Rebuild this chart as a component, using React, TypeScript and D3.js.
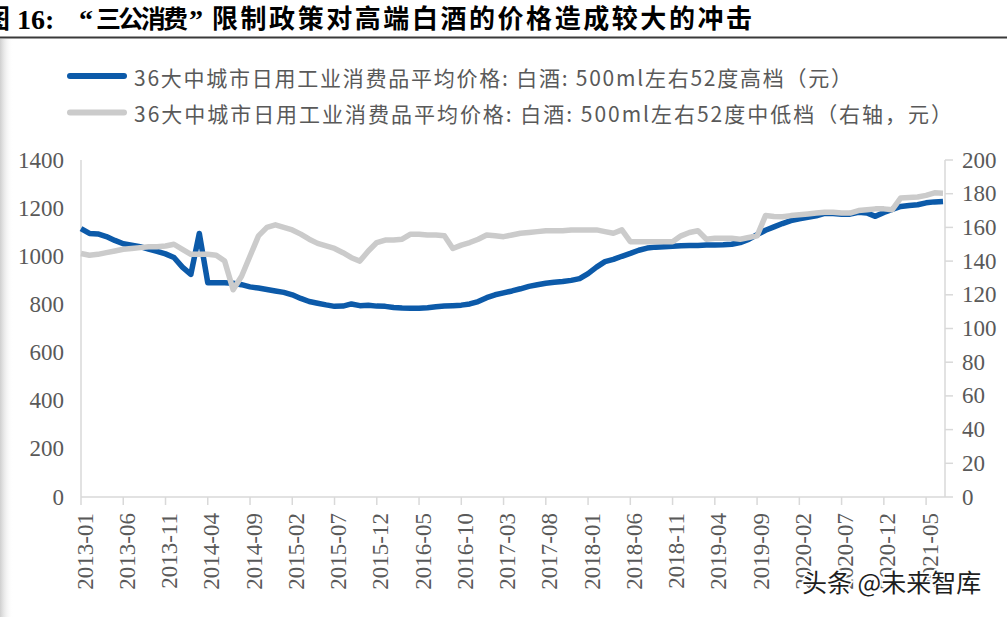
import React from "react";
import * as d3 from "d3";

// Categories: monthly, 2013-01 .. 2021-07
const months: string[] = d3
  .timeMonth.range(new Date(2013, 0, 1), new Date(2021, 7, 1))
  .map(d3.timeFormat("%Y-%m"));

const tickLabels: string[] = [
  "2013-01", "2013-06", "2013-11", "2014-04", "2014-09", "2015-02", "2015-07",
  "2015-12", "2016-05", "2016-10", "2017-03", "2017-08", "2018-01", "2018-06",
  "2018-11", "2019-04", "2019-09", "2020-02", "2020-07", "2020-12", "2021-05",
];

// 高档 (left axis)
const highEnd: number[] = [
  1115, 1095, 1093, 1082, 1066, 1052, 1046, 1040, 1030, 1020,
  1010, 995, 955, 925, 1095, 890, 890, 890, 888, 882,
  873, 868, 862, 856, 850, 840, 825, 812, 805, 798,
  792, 793, 802, 795, 797, 793, 792, 787, 785, 784,
  784, 786, 790, 793, 795, 797, 802, 812, 828, 840,
  848, 856, 865, 875, 882, 888, 892, 895, 900, 907,
  928, 955, 978, 987, 1000, 1012, 1025, 1034, 1038, 1040,
  1042, 1044, 1045, 1045, 1047, 1047, 1048, 1050, 1057, 1070,
  1090, 1108, 1122, 1136, 1148, 1156, 1162, 1168, 1178, 1178,
  1175, 1175, 1183, 1180, 1166, 1182, 1195, 1207, 1211, 1214,
  1222, 1226, 1228,
];

// 中低档 (right axis)
const midLow: number[] = [
  144.5, 143.5, 144, 145, 146, 147, 147.5, 148, 148.5, 148.5,
  149, 150, 147, 144, 144, 144, 143.5, 140, 123, 131,
  143, 155, 160, 161.5, 160, 158.5, 156, 153, 150.5, 149,
  147.5, 145, 142, 140, 146, 151, 152.5, 152.5, 153, 156,
  156, 155.5, 155.5, 155, 147.5, 149.5, 151, 153, 155.5, 155,
  154.5, 155.5, 156.5, 157, 157.5, 158, 158, 158, 158.5, 158.5,
  158.5, 158.5, 157.5, 156.5, 158.5, 151.5, 151.5, 151.5, 151.5, 151.5,
  151.5, 155, 157, 158, 153, 153.5, 153.5, 153.5, 153, 154,
  155, 167, 166.5, 166.3, 167, 167.5, 168, 168.5, 169, 169,
  168.5, 168.5, 170, 170.5, 171, 171, 170.5, 177.5, 177.8, 178,
  179, 180.5, 180.3,
];

const leftTicks: number[] = [0, 200, 400, 600, 800, 1000, 1200, 1400];
const rightTicks: number[] = [0, 20, 40, 60, 80, 100, 120, 140, 160, 180, 200];

const legendLabels: string[] = [
  "36大中城市日用工业消费品平均价格: 白酒: 500ml左右52度高档（元）",
  "36大中城市日用工业消费品平均价格: 白酒: 500ml左右52度中低档（右轴，元）",
];

const BLUE = "#0c5aa9";
const GRAY = "#cbcbcb";
const AXIS = "#d9d9d9";
const LABEL = "#595959";
const SERIF = "'Liberation Serif', 'Times New Roman', serif";
const CJK = "'Noto Sans CJK SC', sans-serif";

export default function App() {
  const W = 1007;
  const H = 617;
  const x = d3.scalePoint<string>().domain(months).range([81, 943]);
  const yL = d3.scaleLinear().domain([0, 1400]).range([497, 160]);
  const yR = d3.scaleLinear().domain([0, 200]).range([497, 160]);

  const lineL = d3
    .line<number>()
    .x((_, i) => x(months[i]) as number)
    .y((d) => yL(d));
  const lineR = d3
    .line<number>()
    .x((_, i) => x(months[i]) as number)
    .y((d) => yR(d));

  const axisRightX = 945;

  return (
    <svg
      width={W}
      height={H}
      viewBox={`0 0 ${W} ${H}`}
      style={{ position: "absolute", left: 0, top: 0, display: "block", background: "#fff" }}
    >
      <defs>
        <linearGradient id="edge" x1="0" x2="1" y1="0" y2="0">
          <stop offset="0" stopColor="#cfcfcf" />
          <stop offset="1" stopColor="#ffffff" stopOpacity="0" />
        </linearGradient>
      </defs>
      <rect x={0} y={0} width={W} height={H} fill="#fff" />
      <rect x={0} y={39} width={13} height={H - 39} fill="url(#edge)" />

      {/* Title */}
      <text x={-16} y={28} fontFamily={CJK} fontWeight="bold" fontSize={26} fill="#000">图</text>
      <text x={17} y={29} fontFamily={SERIF} fontWeight="bold" fontSize={28} fill="#000">16:</text>
      <text x={79} y={29} fontFamily={SERIF} fontWeight="bold" fontSize={28} fill="#000">“</text>
      <text x={96} y={28} fontFamily={CJK} fontWeight="bold" fontSize={25} fill="#000" textLength={92} lengthAdjust="spacing">三公消费</text>
      <text x={189} y={29} fontFamily={SERIF} fontWeight="bold" fontSize={28} fill="#000">”</text>
      <text x={212} y={28} fontFamily={CJK} fontWeight="bold" fontSize={26} fill="#000" textLength={540} lengthAdjust="spacing">限制政策对高端白酒的价格造成较大的冲击</text>
      <line x1={0} x2={W} y1={37.5} y2={37.5} stroke="#3a3a3a" strokeWidth={2} />

      {/* Legend */}
      {legendLabels.map((t, i) => (
        <g key={t}>
          <line
            x1={70}
            x2={124}
            y1={76 + i * 36.5}
            y2={76 + i * 36.5}
            stroke={i === 0 ? BLUE : GRAY}
            strokeWidth={6}
            strokeLinecap="round"
          />
          <text
            x={134}
            y={77 + i * 36}
            dominantBaseline="central"
            fontFamily={CJK}
            fontSize={21}
            fill={LABEL}
            textLength={i === 0 ? 718 : 818}
            lengthAdjust="spacing"
          >
            {t}
          </text>
        </g>
      ))}

      {/* Axes */}
      <line x1={81} x2={81} y1={160} y2={497} stroke={AXIS} strokeWidth={1.5} />
      <line x1={axisRightX} x2={axisRightX} y1={160} y2={497} stroke={AXIS} strokeWidth={1.5} />
      <line x1={81} x2={axisRightX} y1={497} y2={497} stroke={AXIS} strokeWidth={1.5} />

      {leftTicks.map((v) => (
        <text key={"l" + v} x={64} y={yL(v)} dy="0.33em" textAnchor="end" fontFamily={SERIF} fontSize={23} fill={LABEL}>
          {v}
        </text>
      ))}
      {rightTicks.map((v) => (
        <g key={"r" + v}>
          <line x1={axisRightX} x2={axisRightX + 8} y1={yR(v)} y2={yR(v)} stroke={AXIS} strokeWidth={1.5} />
          <text x={962} y={yR(v)} dy="0.33em" textAnchor="start" fontFamily={SERIF} fontSize={23} fill={LABEL}>
            {v}
          </text>
        </g>
      ))}
      {tickLabels.map((m) => {
        const tx = x(m) as number;
        return (
          <g key={m}>
            <line x1={tx} x2={tx} y1={497} y2={505} stroke={AXIS} strokeWidth={1.5} />
            <text
              transform={`translate(${tx + 4},513) rotate(-90)`}
              dy="0.33em"
              textAnchor="end"
              fontFamily={SERIF}
              fontSize={23}
              fill={LABEL}
            >
              {m}
            </text>
          </g>
        );
      })}

      {/* Series */}
      <path d={lineL(highEnd) || ""} fill="none" stroke={BLUE} strokeWidth={5.5} strokeLinejoin="round" />
      <path d={lineR(midLow) || ""} fill="none" stroke={GRAY} strokeWidth={5.5} strokeLinejoin="round" />

      {/* Watermark */}
      <text
        x={802}
        y={592}
        fontFamily={CJK}
        fontSize={25}
        fill="#1e1e1e"
        stroke="#ffffff"
        strokeWidth={3}
        paintOrder="stroke"
      >
        头条 @未来智库
      </text>
    </svg>
  );
}
